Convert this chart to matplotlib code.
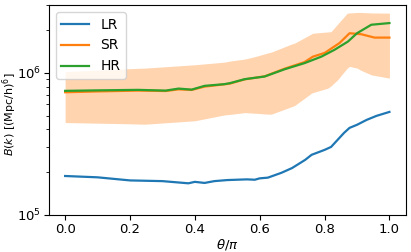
import numpy as np
import matplotlib
matplotlib.use("Agg")
import matplotlib.pyplot as plt

# ── data (theta/pi, B(k)) ──
x_lr = [0.0, 0.1, 0.2, 0.3, 0.38, 0.4, 0.43, 0.46, 0.5, 0.56, 0.585, 0.6, 0.625,
        0.667, 0.70, 0.74, 0.76, 0.80, 0.82, 0.86, 0.877, 0.90, 0.93, 0.96, 1.0]
lr = [1.88e5, 1.84e5, 1.75e5, 1.73e5, 1.67e5, 1.71e5, 1.68e5, 1.73e5, 1.76e5, 1.78e5,
      1.77e5, 1.81e5, 1.83e5, 1.98e5, 2.14e5, 2.44e5, 2.65e5, 2.87e5, 3.01e5, 3.78e5,
      4.10e5, 4.31e5, 4.67e5, 4.98e5, 5.31e5]

x_hr = [0.0, 0.1, 0.225, 0.31, 0.35, 0.39, 0.43, 0.49, 0.508, 0.554, 0.615, 0.677,
        0.738, 0.79, 0.83, 0.872, 0.90, 0.944, 1.0]
hr = [7.47e5, 7.53e5, 7.59e5, 7.50e5, 7.75e5, 7.62e5, 8.10e5, 8.32e5, 8.46e5, 9.03e5,
      9.42e5, 1.06e6, 1.17e6, 1.30e6, 1.45e6, 1.66e6, 1.90e6, 2.18e6, 2.24e6]

x_sr = [0.0, 0.1, 0.225, 0.31, 0.35, 0.39, 0.43, 0.49, 0.508, 0.554, 0.615, 0.677,
        0.738, 0.764, 0.8, 0.846, 0.877, 0.913, 0.954, 1.0]
sr = [7.30e5, 7.40e5, 7.50e5, 7.45e5, 7.65e5, 7.58e5, 8.00e5, 8.30e5, 8.40e5, 9.00e5,
      9.45e5, 1.07e6, 1.19e6, 1.30e6, 1.38e6, 1.62e6, 1.90e6, 1.87e6, 1.77e6, 1.77e6]

x_band = [0.0, 0.2, 0.246, 0.4, 0.492, 0.508, 0.554, 0.585, 0.625, 0.636, 0.70, 0.708,
          0.76, 0.763, 0.81, 0.82, 0.84, 0.87, 0.877, 0.90, 0.913, 0.944, 1.0]
band_hi = [1.02e6, 1.07e6, 1.08e6, 1.14e6, 1.19e6, 1.21e6, 1.25e6, 1.30e6, 1.38e6, 1.40e6,
           1.60e6, 1.62e6, 1.88e6, 1.90e6, 1.94e6, 1.95e6, 2.20e6, 2.63e6, 2.64e6, 2.66e6,
           2.66e6, 2.64e6, 2.63e6]
band_lo = [4.47e5, 4.38e5, 4.35e5, 4.60e5, 5.06e5, 5.10e5, 5.25e5, 5.20e5, 5.12e5, 5.12e5,
           5.80e5, 5.90e5, 7.20e5, 7.25e5, 7.80e5, 8.10e5, 8.93e5, 1.08e6, 1.11e6, 1.08e6,
           1.04e6, 9.68e5, 9.18e5]

plt.rcParams['font.size'] = 9.5

fig = plt.figure(figsize=(4.11, 2.52), dpi=100)
ax = fig.add_axes([0.119, 0.147, 0.868, 0.833])

ax.fill_between(x_band, band_lo, band_hi, color='C1', alpha=0.33, linewidth=0)
ax.plot(x_lr, lr, color='C0', lw=1.6, label='LR')
ax.plot(x_sr, sr, color='C1', lw=1.6, label='SR')
ax.plot(x_hr, hr, color='C2', lw=1.6, label='HR')

ax.set_yscale('log')
ax.set_ylim(1e5, 3e6)
ax.set_xlim(-0.05, 1.05)
ax.tick_params(labelsize=9.5, pad=2)
ax.set_xlabel(r'$\theta/\pi$', labelpad=1)
ax.set_ylabel(r'$B(k)$ [(Mpc/h)$^6$]', fontsize=8)
ax.yaxis.set_label_coords(-0.084, 0.48)
ax.legend(loc='upper left', fontsize=10, handlelength=2.0)

plt.savefig("out.png", dpi=100)
plt.close()
